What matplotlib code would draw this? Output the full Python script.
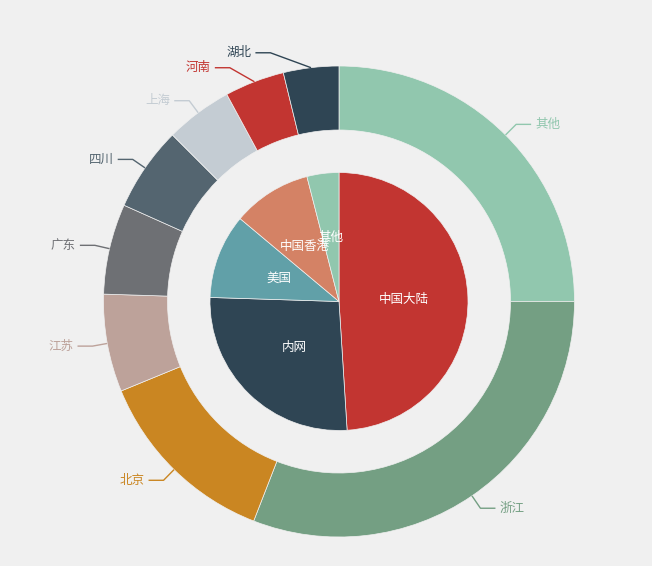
import numpy as np
import matplotlib.pyplot as plt

plt.rcParams['font.family'] = ['Noto Sans CJK SC', 'DejaVu Sans']

# 内圈：访问来源
inner_names = ['中国大陆', '内网', '美国', '中国香港', '其他']
inner_values = [490, 265, 106, 99, 40]
inner_colors = ['#c23531', '#2f4554', '#61a0a8', '#d48265', '#91c7ae']

# 外圈：省份
outer_names = ['其他', '浙江', '北京', '江苏', '广东', '四川', '上海', '河南', '湖北']
outer_values = [250, 309, 129, 67, 62, 58, 46, 41, 38]
outer_colors = ['#91c7ae', '#749f83', '#ca8622', '#bda29a', '#6e7074',
                '#546570', '#c4ccd3', '#c23531', '#2f4554']

W, H = 652, 566
bg = '#f0f0f0'
cx, cy = 339, H - 301.5
r_inner = 129
r_outer = 235.5
ring_w = 64

fig = plt.figure(figsize=(W / 100, H / 100), dpi=100, facecolor=bg)
ax = fig.add_axes([0, 0, 1, 1])
ax.set_facecolor(bg)
ax.set_xlim(0, W)
ax.set_ylim(0, H)
ax.set_aspect('equal')
ax.axis('off')

# 内圈饼图
w_in, _ = ax.pie(inner_values, colors=inner_colors, startangle=90,
                 counterclock=False, radius=r_inner, center=(cx, cy),
                 wedgeprops=dict(linewidth=0.5, edgecolor='#f0f0f0'),
                 frame=True)
for w, name in zip(w_in, inner_names):
    a = np.deg2rad((w.theta1 + w.theta2) / 2)
    x = cx + r_inner / 2 * np.cos(a)
    y = cy + r_inner / 2 * np.sin(a)
    ax.text(x, y, name, color='white', fontsize=9, ha='center', va='center')

# 外圈环形
w_out, _ = ax.pie(outer_values, colors=outer_colors, startangle=90,
                  counterclock=False, radius=r_outer, center=(cx, cy),
                  wedgeprops=dict(width=ring_w, linewidth=0.5, edgecolor='#f0f0f0'),
                  frame=True)
ax.set_xlim(0, W)
ax.set_ylim(0, H)
ax.axis('off')

len1, len2 = 15, 15
for w, name, col in zip(w_out, outer_names, outer_colors):
    a = np.deg2rad((w.theta1 + w.theta2) / 2)
    dx, dy = np.cos(a), np.sin(a)
    x0, y0 = cx + r_outer * dx, cy + r_outer * dy
    x1, y1 = cx + (r_outer + len1) * dx, cy + (r_outer + len1) * dy
    side = 1 if dx >= 0 else -1
    # 靠近顶部/底部的标签向外推开，避免挤在一起
    ddy = abs(y1 - cy)
    if ddy < 258:
        x1 = cx + side * max(abs(x1 - cx), np.sqrt(258 ** 2 - ddy ** 2) if ddy > 220 else 0)
    x2 = x1 + side * len2
    ax.plot([x0, x1, x2], [y0, y1, y1], color=col, lw=1, solid_capstyle='butt')
    ax.text(x2 + side * 4, y1, name, color=col, fontsize=9,
            ha='left' if side > 0 else 'right', va='center')

fig.savefig('out.png', dpi=100, facecolor=bg)
